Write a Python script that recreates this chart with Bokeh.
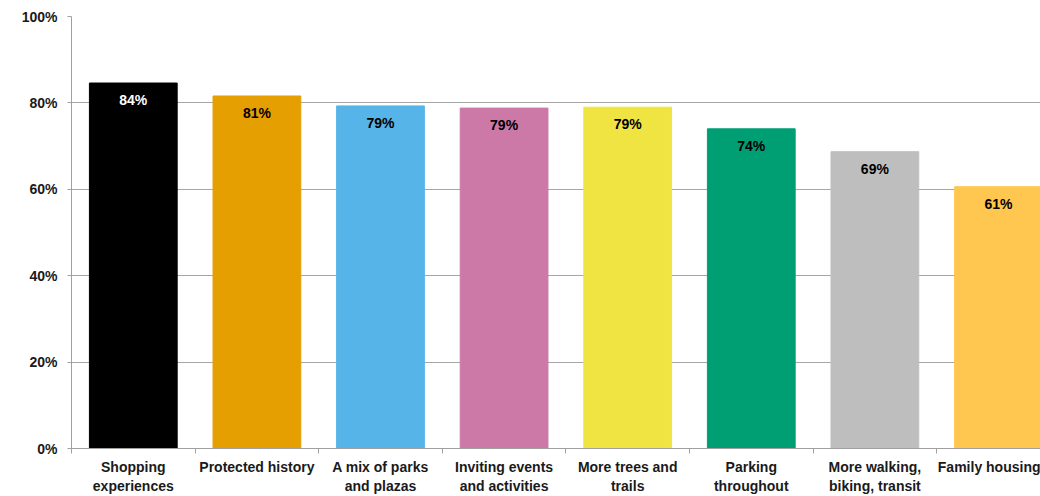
from bokeh.plotting import figure
from bokeh.models import Range1d, FixedTicker, ColumnDataSource, PrintfTickFormatter
from bokeh.core.properties import value
from bokeh.embed import file_html
from bokeh.resources import INLINE

categories = ["Shopping\nexperiences", "Protected history", "A mix of parks\nand plazas",
              "Inviting events\nand activities", "More trees and\ntrails", "Parking\nthroughout",
              "More walking,\nbiking, transit", "Family housing"]
values = [84.6, 81.6, 79.3, 78.8, 79.0, 74.0, 68.7, 60.6]
labels = ["84%", "81%", "79%", "79%", "79%", "74%", "69%", "61%"]
colors = ["#000000", "#E69F00", "#56B4E9", "#CC79A7", "#F0E442", "#009E73", "#BEBEBE", "#FFC74F"]
label_colors = ["#FFFFFF"] + ["#000000"] * 7
y_ticks = [0, 20, 40, 60, 80, 100]

xs = [i + 0.5 for i in range(len(categories))]
src = ColumnDataSource(dict(x=xs, top=values, color=colors, label=labels, lc=label_colors))

p = figure(width=1040, height=496, output_backend="svg", toolbar_location=None,
           x_range=Range1d(0, 7.84), y_range=Range1d(0, 100),
           min_border_left=71, min_border_right=0, min_border_top=16, min_border_bottom=46)
p.outline_line_color = None
p.xgrid.visible = False
p.ygrid.grid_line_color = "#a6a6a6"
p.ygrid.ticker = FixedTicker(ticks=y_ticks)

p.vbar(x="x", top="top", width=0.71, bottom=0, color="color", source=src)
p.text(x="x", y="top", text="label", source=src, text_color="lc",
       text_font=value("Liberation Sans"), text_font_style="bold", text_font_size="14px",
       text_align="center", text_baseline="middle", y_offset=17)

font = "Liberation Sans"
xa = p.xaxis[0]
xa.ticker = FixedTicker(ticks=xs, minor_ticks=list(range(0, 9)))
xa.major_label_overrides = {x: c for x, c in zip(xs, categories)}
xa.major_tick_out = 0
xa.major_tick_in = 0
xa.minor_tick_out = 5
xa.minor_tick_in = 0
xa.minor_tick_line_color = "#a0a0a0"
xa.axis_line_color = "#a0a0a0"
xa.major_label_standoff = 5
xa.major_label_text_font = font
xa.major_label_text_font_style = "bold"
xa.major_label_text_font_size = "14px"
xa.major_label_text_color = "#1a1a1a"
xa.major_label_text_line_height = 1.2

ya = p.yaxis[0]
ya.ticker = FixedTicker(ticks=y_ticks)
ya.formatter = PrintfTickFormatter(format="%d%%")
ya.major_tick_out = 4
ya.major_tick_in = 0
ya.minor_tick_line_color = None
ya.major_tick_line_color = "#a0a0a0"
ya.axis_line_color = "#a0a0a0"
ya.major_label_standoff = 10
ya.major_label_text_font = font
ya.major_label_text_font_style = "bold"
ya.major_label_text_font_size = "14px"
ya.major_label_text_color = "#1a1a1a"

open("out.html", "w").write(file_html(p, INLINE))
